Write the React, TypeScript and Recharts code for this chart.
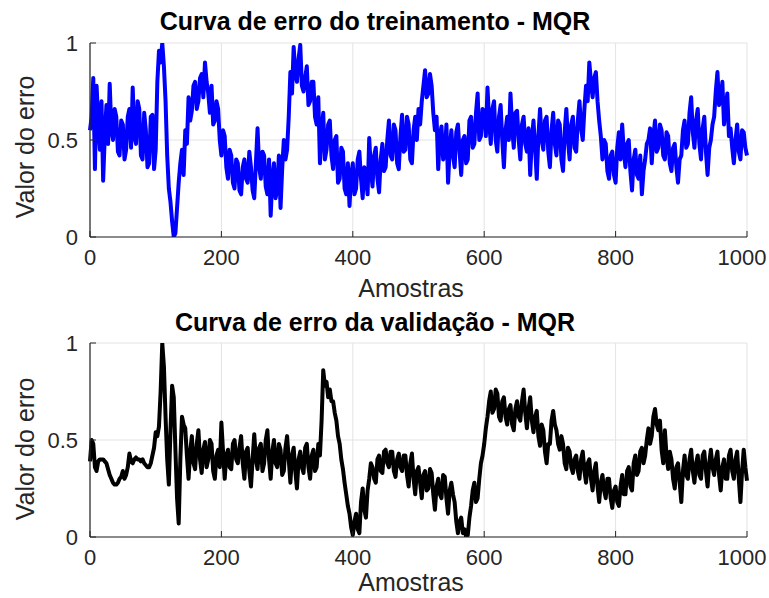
import React from "react";
import { LineChart, Line, XAxis, YAxis, CartesianGrid } from "recharts";

const SAMPLE_STEP = 2.5;
const xTicks = [0, 200, 400, 600, 800, 1000];
const yTicks = [0, 0.5, 1];

const trainTitle = "Curva de erro do treinamento - MQR";
const validTitle = "Curva de erro da validação - MQR";
const yLabel = "Valor do erro";
const xLabel = "Amostras";

const trainError = [
  0.55, 0.62, 0.82, 0.35, 0.78, 0.6, 0.45, 0.7, 0.29, 0.52, 0.68, 0.48, 0.79, 0.55, 0.5, 0.66, 0.62, 0.44, 0.42, 0.6,
  0.58, 0.4, 0.45, 0.62, 0.66, 0.46, 0.77, 0.52, 0.48, 0.7, 0.66, 0.42, 0.4, 0.64, 0.55, 0.36, 0.38, 0.62, 0.63, 0.35,
  0.45, 0.8, 0.96, 0.9, 1.0, 0.88, 0.7, 0.42, 0.25, 0.18, 0.08, 0.0, 0.02, 0.15, 0.28, 0.38, 0.45, 0.32, 0.55, 0.48,
  0.72, 0.6, 0.65, 0.78, 0.8, 0.66, 0.7, 0.82, 0.84, 0.72, 0.9, 0.8, 0.74, 0.64, 0.78, 0.58, 0.6, 0.7, 0.66, 0.5,
  0.42, 0.55, 0.52, 0.36, 0.3, 0.45, 0.42, 0.28, 0.25, 0.4, 0.38, 0.24, 0.22, 0.36, 0.4, 0.3, 0.28, 0.44, 0.36, 0.24,
  0.2, 0.38, 0.56, 0.36, 0.3, 0.44, 0.42, 0.26, 0.22, 0.4, 0.11, 0.3, 0.38, 0.2, 0.25, 0.42, 0.15, 0.35, 0.5, 0.4,
  0.45, 0.62, 0.85, 0.74, 0.98, 0.84, 0.8, 0.92, 0.99, 0.78, 0.75, 0.82, 0.88, 0.68, 0.7, 0.8, 0.8, 0.62, 0.58, 0.72,
  0.38, 0.55, 0.64, 0.4, 0.45, 0.58, 0.6, 0.42, 0.35, 0.5, 0.52, 0.28, 0.3, 0.46, 0.44, 0.25, 0.22, 0.38, 0.16, 0.32,
  0.38, 0.22, 0.25, 0.4, 0.44, 0.3, 0.2, 0.36, 0.32, 0.22, 0.51, 0.35, 0.26, 0.42, 0.46, 0.3, 0.23, 0.4, 0.48, 0.34,
  0.36, 0.5, 0.6, 0.42, 0.4, 0.58, 0.55, 0.38, 0.35, 0.52, 0.63, 0.44, 0.45, 0.62, 0.58, 0.4, 0.38, 0.55, 0.62, 0.5,
  0.66, 0.58, 0.7, 0.78, 0.86, 0.72, 0.74, 0.84, 0.78, 0.64, 0.55, 0.62, 0.35, 0.52, 0.57, 0.4, 0.42, 0.58, 0.28, 0.45,
  0.55, 0.42, 0.36, 0.54, 0.58, 0.44, 0.32, 0.5, 0.52, 0.38, 0.4, 0.6, 0.62, 0.46, 0.48, 0.64, 0.74, 0.5, 0.52, 0.66,
  0.65, 0.52, 0.77, 0.6, 0.48, 0.66, 0.7, 0.5, 0.44, 0.62, 0.68, 0.5, 0.36, 0.55, 0.62, 0.5, 0.74, 0.56, 0.46, 0.64,
  0.65, 0.5, 0.4, 0.58, 0.62, 0.48, 0.44, 0.56, 0.32, 0.5, 0.6, 0.46, 0.3, 0.52, 0.66, 0.5, 0.45, 0.6, 0.62, 0.44,
  0.36, 0.55, 0.64, 0.48, 0.42, 0.6, 0.58, 0.4, 0.34, 0.54, 0.66, 0.5, 0.4, 0.58, 0.62, 0.46, 0.44, 0.6, 0.7, 0.56,
  0.5, 0.66, 0.78, 0.7, 0.9, 0.8, 0.72, 0.82, 0.85, 0.7, 0.6, 0.52, 0.4, 0.5, 0.48, 0.34, 0.3, 0.42, 0.44, 0.32,
  0.28, 0.46, 0.54, 0.4, 0.58, 0.44, 0.36, 0.48, 0.5, 0.34, 0.24, 0.4, 0.45, 0.32, 0.3, 0.42, 0.22, 0.34, 0.4, 0.48,
  0.5, 0.56, 0.38, 0.52, 0.6, 0.44, 0.46, 0.58, 0.55, 0.42, 0.4, 0.54, 0.52, 0.38, 0.34, 0.46, 0.48, 0.36, 0.28, 0.4,
  0.42, 0.55, 0.6, 0.46, 0.48, 0.64, 0.72, 0.54, 0.46, 0.6, 0.66, 0.48, 0.4, 0.56, 0.62, 0.44, 0.32, 0.46, 0.5, 0.58,
  0.62, 0.75, 0.85, 0.68, 0.7, 0.8, 0.58, 0.66, 0.74, 0.52, 0.56, 0.46, 0.38, 0.5, 0.58, 0.44, 0.4, 0.55, 0.54, 0.46,
  0.42,
];

const validError = [
  0.39, 0.5, 0.48, 0.36, 0.34, 0.39, 0.4, 0.4, 0.4, 0.39, 0.38, 0.35, 0.32, 0.3, 0.28, 0.27, 0.27, 0.28, 0.3, 0.31,
  0.34, 0.3, 0.32, 0.36, 0.43, 0.39, 0.38, 0.4, 0.41, 0.4, 0.4, 0.39, 0.4, 0.38, 0.37, 0.36, 0.36, 0.38, 0.42, 0.46,
  0.54, 0.52, 0.57, 0.75, 1.0, 0.88, 0.62, 0.4, 0.27, 0.55, 0.78, 0.72, 0.45, 0.2, 0.07, 0.4, 0.62, 0.58, 0.56, 0.42,
  0.3, 0.44, 0.52, 0.38, 0.35, 0.48, 0.55, 0.4, 0.33, 0.45, 0.49, 0.36, 0.4, 0.5, 0.48, 0.34, 0.3, 0.42, 0.45, 0.36,
  0.59, 0.44, 0.3, 0.42, 0.45, 0.36, 0.35, 0.48, 0.5, 0.4, 0.38, 0.46, 0.52, 0.38, 0.3, 0.44, 0.46, 0.34, 0.26, 0.4,
  0.53, 0.4, 0.35, 0.46, 0.48, 0.34, 0.38, 0.5, 0.55, 0.4, 0.3, 0.44, 0.5, 0.38, 0.36, 0.48, 0.45, 0.32, 0.34, 0.46,
  0.52, 0.4, 0.28, 0.42, 0.46, 0.34, 0.25, 0.4, 0.44, 0.36, 0.33, 0.46, 0.48, 0.36, 0.3, 0.42, 0.45, 0.34, 0.36, 0.48,
  0.42, 0.6, 0.86, 0.78, 0.8, 0.72, 0.76, 0.7, 0.7, 0.64, 0.6, 0.52, 0.48, 0.4, 0.35, 0.28, 0.22, 0.16, 0.12, 0.05,
  0.01, 0.08, 0.12, 0.04, 0.02, 0.18, 0.25, 0.14, 0.1, 0.24, 0.3, 0.38, 0.36, 0.3, 0.28, 0.4, 0.42, 0.34, 0.33, 0.44,
  0.45, 0.38, 0.36, 0.44, 0.44, 0.34, 0.31, 0.4, 0.43, 0.36, 0.34, 0.42, 0.42, 0.32, 0.26, 0.38, 0.43, 0.3, 0.22, 0.34,
  0.36, 0.28, 0.2, 0.32, 0.34, 0.24, 0.25, 0.35, 0.33, 0.22, 0.14, 0.26, 0.3, 0.22, 0.2, 0.32, 0.31, 0.2, 0.12, 0.24,
  0.28, 0.22, 0.18, 0.08, 0.02, 0.08, 0.1, 0.02, 0.04, 0.0, 0.01, 0.1, 0.16, 0.24, 0.28, 0.18, 0.2, 0.3, 0.38, 0.42,
  0.48, 0.56, 0.62, 0.7, 0.75, 0.64, 0.66, 0.76, 0.74, 0.62, 0.6, 0.7, 0.72, 0.62, 0.58, 0.66, 0.68, 0.58, 0.55, 0.66,
  0.7, 0.62, 0.6, 0.7, 0.76, 0.64, 0.56, 0.66, 0.72, 0.6, 0.54, 0.62, 0.65, 0.52, 0.47, 0.58, 0.55, 0.44, 0.38, 0.48,
  0.48, 0.6, 0.65, 0.58, 0.55, 0.48, 0.45, 0.52, 0.48, 0.38, 0.35, 0.46, 0.44, 0.36, 0.33, 0.4, 0.42, 0.34, 0.3, 0.4,
  0.44, 0.34, 0.28, 0.38, 0.4, 0.3, 0.24, 0.34, 0.38, 0.26, 0.18, 0.28, 0.32, 0.24, 0.2, 0.3, 0.3, 0.2, 0.15, 0.24,
  0.26, 0.18, 0.16, 0.26, 0.32, 0.22, 0.22, 0.34, 0.36, 0.26, 0.24, 0.38, 0.42, 0.32, 0.34, 0.44, 0.46, 0.38, 0.42, 0.5,
  0.56, 0.48, 0.52, 0.62, 0.66, 0.58, 0.55, 0.6, 0.45, 0.38, 0.55, 0.42, 0.35, 0.44, 0.4, 0.3, 0.25, 0.36, 0.38, 0.28,
  0.18, 0.34, 0.42, 0.32, 0.3, 0.4, 0.45, 0.34, 0.28, 0.38, 0.42, 0.32, 0.3, 0.42, 0.44, 0.34, 0.26, 0.38, 0.45, 0.36,
  0.32, 0.4, 0.44, 0.32, 0.24, 0.36, 0.4, 0.3, 0.3, 0.42, 0.45, 0.34, 0.3, 0.4, 0.44, 0.3, 0.18, 0.34, 0.45, 0.36,
  0.29,
];

const toRows = (values: number[]) =>
  values.map((v, i) => ({ sample: i * SAMPLE_STEP, value: v }));

const FONT = '"Liberation Sans", Arial, Helvetica, sans-serif';
const AXIS = "#262626";
const tickStyle = { fontSize: 22, fill: AXIS, fontFamily: FONT };

const XTick = (props: any) => {
  const { x, y, payload } = props;
  return (
    <text
      x={Math.min(x, 742)}
      y={y}
      dy="0.71em"
      textAnchor="middle"
      fontSize={22}
      fill={AXIS}
      fontFamily={FONT}
    >
      {payload.value}
    </text>
  );
};

function Panel({ data, color }: { data: { sample: number; value: number }[]; color: string }) {
  return (
    <LineChart
      width={769}
      height={300}
      data={data}
      margin={{ top: 43, right: 22, bottom: 33, left: 40 }}
    >
      <CartesianGrid stroke="#e3e3e3" strokeWidth={1} />
      <XAxis
        dataKey="sample"
        type="number"
        domain={[0, 1000]}
        ticks={xTicks}
        interval={0}
        height={30}
        tickSize={-6}
        tickMargin={18}
        tick={<XTick />}
        stroke={AXIS}
        axisLine={{ stroke: AXIS, strokeWidth: 1.2 }}
        tickLine={{ stroke: AXIS }}
      />
      <XAxis
        xAxisId="top"
        orientation="top"
        type="number"
        domain={[0, 1000]}
        ticks={xTicks}
        interval={0}
        height={0}
        tickSize={-6}
        tickFormatter={() => ""}
        axisLine={{ stroke: AXIS, strokeWidth: 1.2 }}
        tickLine={{ stroke: AXIS }}
      />
      <YAxis
        type="number"
        domain={[0, 1]}
        ticks={yTicks}
        interval={0}
        width={50}
        tickSize={-6}
        tickMargin={18}
        tick={tickStyle}
        axisLine={{ stroke: AXIS, strokeWidth: 1.2 }}
        tickLine={{ stroke: AXIS }}
        allowDataOverflow
      />
      <YAxis
        yAxisId="right"
        orientation="right"
        type="number"
        domain={[0, 1]}
        ticks={yTicks}
        interval={0}
        width={0}
        tickSize={-6}
        tickFormatter={() => ""}
        axisLine={{ stroke: AXIS, strokeWidth: 1.2 }}
        tickLine={{ stroke: AXIS }}
      />
      <Line
        dataKey="value"
        type="linear"
        stroke={color}
        strokeWidth={4}
        strokeLinejoin="round"
        dot={false}
        isAnimationActive={false}
      />
    </LineChart>
  );
}

export default function App() {
  const trainRows = toRows(trainError);
  const validRows = toRows(validError);
  return (
    <div style={{ position: "absolute", left: 0, top: 0, width: 769, height: 598, background: "#fff" }}>
      <div style={{ position: "absolute", left: 0, top: 0 }}>
        <Panel data={trainRows} color="#0000ff" />
      </div>
      <div style={{ position: "absolute", left: 0, top: 300 }}>
        <Panel data={validRows} color="#000000" />
      </div>
      <svg
        width={769}
        height={598}
        style={{ position: "absolute", left: 0, top: 0, pointerEvents: "none" }}
      >
        <g fontFamily={FONT}>
          <text x={375} y={30} textAnchor="middle" fontSize={25} fontWeight="bold" fill="#000">
            {trainTitle}
          </text>
          <text x={375} y={331} textAnchor="middle" fontSize={25} fontWeight="bold" fill="#000">
            {validTitle}
          </text>
          <text x={411} y={297} textAnchor="middle" fontSize={25} fill={AXIS}>
            {xLabel}
          </text>
          <text x={411} y={591} textAnchor="middle" fontSize={25} fill={AXIS}>
            {xLabel}
          </text>
          <text
            transform="translate(34,147) rotate(-90)"
            textAnchor="middle"
            fontSize={25}
            fill={AXIS}
          >
            {yLabel}
          </text>
          <text
            transform="translate(34,449) rotate(-90)"
            textAnchor="middle"
            fontSize={25}
            fill={AXIS}
          >
            {yLabel}
          </text>
        </g>
      </svg>
    </div>
  );
}
